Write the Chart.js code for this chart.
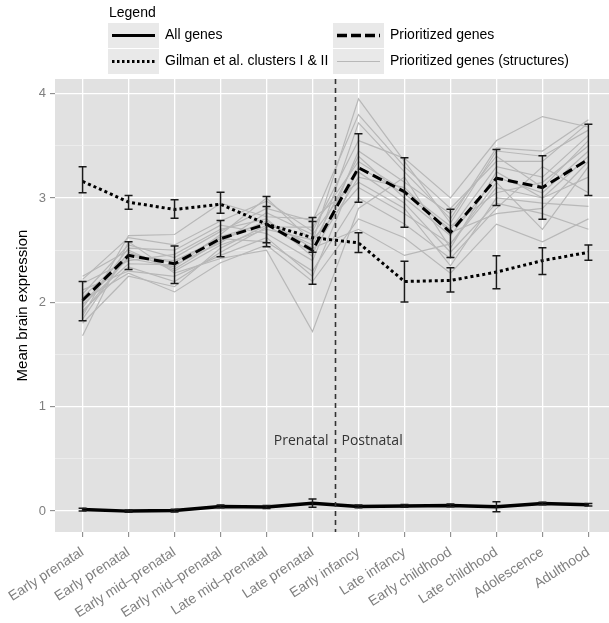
<!DOCTYPE html>
<html>
<head>
<meta charset="utf-8">
<script src="https://cdn.jsdelivr.net/npm/chart.js@4"></script>
<style>
  html, body { margin: 0; padding: 0; background: #fff; overflow: hidden; }
  canvas { display: block; }
</style>
</head>
<body>
<canvas id="brainChart" width="616" height="623"></canvas>
<script>
// Developmental stages on the x axis
const stages = ['Early prenatal', 'Early prenatal', 'Early mid\u2013prenatal', 'Early mid\u2013prenatal',
  'Late mid\u2013prenatal', 'Late prenatal', 'Early infancy', 'Late infancy', 'Early childhood',
  'Late childhood', 'Adolescence', 'Adulthood'];

const yTicks = [0, 1, 2, 3, 4];
const yMinor = [0.5, 1.5, 2.5, 3.5];

// Mean expression per series
const allGenes = [0.015, 0.0, 0.005, 0.045, 0.04, 0.075, 0.045, 0.05, 0.055, 0.043, 0.073, 0.06];
const allLow   = [0.002, -0.01, -0.008, 0.032, 0.025, 0.036, 0.032, 0.037, 0.042, -0.007, 0.062, 0.048];
const allHigh  = [0.028, 0.01, 0.018, 0.058, 0.055, 0.116, 0.058, 0.063, 0.068, 0.09, 0.084, 0.072];

const gilman     = [3.16, 2.96, 2.89, 2.94, 2.75, 2.62, 2.57, 2.20, 2.21, 2.29, 2.40, 2.48];
const gilmanLow  = [3.05, 2.893, 2.806, 2.854, 2.572, 2.48, 2.478, 2.003, 2.099, 2.131, 2.266, 2.404];
const gilmanHigh = [3.30, 3.025, 2.983, 3.054, 2.919, 2.774, 2.668, 2.394, 2.331, 2.446, 2.524, 2.549];

const prioritized     = [2.02, 2.45, 2.37, 2.61, 2.75, 2.50, 3.29, 3.06, 2.67, 3.19, 3.10, 3.37];
const prioritizedLow  = [1.825, 2.314, 2.18, 2.437, 2.533, 2.173, 2.96, 2.719, 2.43, 2.929, 2.797, 3.025];
const prioritizedHigh = [2.20, 2.58, 2.54, 2.784, 3.015, 2.813, 3.616, 3.385, 2.893, 3.465, 3.404, 3.706];

// Prioritized genes per brain structure (thin grey lines)
const structures = [
  [2.25, 2.50, 2.30, 2.55, 2.70, 2.60, 3.10, 2.85, 2.56, 3.10, 3.00, 3.20],
  [2.22, 2.62, 2.55, 2.78, 2.97, 2.68, 3.55, 3.38, 3.00, 3.55, 3.78, 3.68],
  [2.18, 2.40, 2.46, 2.70, 2.80, 2.44, 3.72, 3.25, 2.80, 3.48, 3.45, 3.75],
  [2.12, 2.30, 2.25, 2.45, 2.62, 2.25, 3.30, 3.04, 2.70, 3.30, 3.20, 3.60],
  [2.08, 2.55, 2.43, 2.68, 2.90, 2.78, 3.80, 3.30, 2.90, 3.35, 3.35, 3.72],
  [2.05, 2.46, 2.38, 2.63, 2.76, 2.55, 3.40, 3.00, 2.64, 3.20, 3.05, 3.45],
  [2.02, 2.28, 2.10, 2.38, 2.55, 2.20, 2.80, 2.62, 2.28, 2.75, 2.58, 2.80],
  [2.00, 2.42, 2.34, 2.65, 3.00, 2.58, 3.95, 3.35, 2.76, 3.45, 3.40, 3.65],
  [1.98, 2.37, 2.36, 2.57, 2.86, 2.65, 3.25, 2.95, 2.48, 2.95, 2.85, 2.70],
  [1.95, 2.52, 2.50, 2.74, 2.66, 2.40, 3.45, 3.15, 2.85, 3.40, 3.10, 3.55],
  [1.92, 2.34, 2.20, 2.48, 2.72, 2.72, 3.35, 3.07, 2.73, 3.05, 3.15, 3.50],
  [1.90, 2.44, 2.40, 2.61, 2.58, 2.30, 3.00, 2.75, 2.42, 2.90, 3.30, 3.05],
  [1.87, 2.64, 2.65, 2.95, 2.82, 2.80, 3.15, 2.90, 2.35, 3.00, 2.95, 2.92],
  [1.84, 2.48, 2.32, 2.59, 2.78, 2.52, 2.70, 2.45, 2.56, 3.15, 2.70, 3.30],
  [1.80, 2.25, 2.15, 2.52, 2.74, 2.48, 3.20, 3.10, 2.67, 2.85, 2.90, 3.35],
  [1.68, 2.58, 2.28, 2.42, 2.50, 1.72, 2.90, 3.20, 2.52, 3.25, 3.00, 3.40]
];

const FONT = "'Liberation Sans', Arial, sans-serif";

function pts(values) {
  return values.map((v, i) => ({ x: i, y: v }));
}

const datasets = [
  { label: 'All genes', data: pts(allGenes), borderColor: '#000', borderWidth: 3.5 },
  { label: 'Prioritized genes', data: pts(prioritized), borderColor: '#000', borderWidth: 3, borderDash: [10, 5] },
  { label: 'Gilman et al. clusters I & II', data: pts(gilman), borderColor: '#000', borderWidth: 3, borderDash: [3, 3] }
];
structures.forEach(s => {
  datasets.push({ label: 'Prioritized genes (structures)', data: pts(s), borderColor: '#b8b8b8', borderWidth: 1.2 });
});

const errorSets = [
  { low: allLow, high: allHigh },
  { low: gilmanLow, high: gilmanHigh },
  { low: prioritizedLow, high: prioritizedHigh }
];

// grey panel background
const panelPlugin = {
  id: 'panel',
  beforeDraw(chart) {
    const a = chart.chartArea;
    const ctx = chart.ctx;
    ctx.save();
    ctx.fillStyle = '#e1e1e1';
    ctx.fillRect(a.left, a.top, a.right - a.left, a.bottom - a.top);
    ctx.restore();
  }
};

// error bars, prenatal/postnatal divider
const extrasPlugin = {
  id: 'extras',
  afterDatasetsDraw(chart) {
    const ctx = chart.ctx;
    const xs = chart.scales.x, ys = chart.scales.y;
    const a = chart.chartArea;
    ctx.save();

    // divider
    const xd = xs.getPixelForValue(5.5);
    ctx.strokeStyle = '#333';
    ctx.lineWidth = 1.6;
    ctx.setLineDash([5, 4]);
    ctx.beginPath();
    ctx.moveTo(xd, a.top);
    ctx.lineTo(xd, a.bottom);
    ctx.stroke();
    ctx.setLineDash([]);

    ctx.fillStyle = '#333';
    ctx.font = "14px 'Open Sans', sans-serif";
    ctx.textBaseline = 'middle';
    const yt = ys.getPixelForValue(0.675);
    ctx.textAlign = 'right';
    ctx.fillText('Prenatal', xd - 7, yt);
    ctx.textAlign = 'left';
    ctx.fillText('Postnatal', xd + 6, yt);

    // error bars
    ctx.strokeStyle = '#1a1a1a';
    ctx.lineWidth = 1.5;
    errorSets.forEach(e => {
      e.low.forEach((lo, i) => {
        const x = xs.getPixelForValue(i);
        const y1 = ys.getPixelForValue(lo);
        const y2 = ys.getPixelForValue(e.high[i]);
        ctx.beginPath();
        ctx.moveTo(x, y1); ctx.lineTo(x, y2);
        ctx.moveTo(x - 4, y1); ctx.lineTo(x + 4, y1);
        ctx.moveTo(x - 4, y2); ctx.lineTo(x + 4, y2);
        ctx.stroke();
      });
    });
    ctx.restore();
  }
};

// ggplot-style legend at the top
const legendPlugin = {
  id: 'topLegend',
  afterDraw(chart) {
    const ctx = chart.ctx;
    ctx.save();
    ctx.font = '14px ' + FONT;
    ctx.fillStyle = '#000';
    ctx.textBaseline = 'middle';
    ctx.textAlign = 'left';
    ctx.fillText('Legend', 109, 13);

    const entries = [
      { col: 0, row: 0, text: 'All genes', color: '#000', width: 3, dash: [] },
      { col: 0, row: 1, text: 'Gilman et al. clusters I & II', color: '#000', width: 3, dash: [2.5, 2.5] },
      { col: 1, row: 0, text: 'Prioritized genes', color: '#000', width: 3.5, dash: [10, 4] },
      { col: 1, row: 1, text: 'Prioritized genes (structures)', color: '#b8b8b8', width: 1.2, dash: [] }
    ];
    const colX = [108, 333];
    entries.forEach(e => {
      const bx = colX[e.col], by = 23 + e.row * 26;
      ctx.fillStyle = '#e9e9e9';
      ctx.fillRect(bx, by, 51, 25);
      const cy = by + 12.5;
      ctx.strokeStyle = e.color;
      ctx.lineWidth = e.width;
      ctx.setLineDash(e.dash);
      ctx.beginPath();
      ctx.moveTo(bx + 4, cy);
      ctx.lineTo(bx + 47, cy);
      ctx.stroke();
      ctx.setLineDash([]);
      ctx.fillStyle = '#000';
      ctx.fillText(e.text, bx + 57, cy);
    });
    ctx.restore();
  }
};

const chart = new Chart(document.getElementById('brainChart'), {
  type: 'line',
  data: { datasets: datasets },
  options: {
    responsive: false,
    animation: false,
    layout: { padding: { top: 79, left: 0, right: 0, bottom: 0 } },
    elements: {
      point: { radius: 0 },
      line: { tension: 0, borderCapStyle: 'butt', borderJoinStyle: 'miter' }
    },
    plugins: {
      legend: { display: false },
      tooltip: { enabled: false }
    },
    scales: {
      x: {
        type: 'linear',
        min: -0.6,
        max: 11.6,
        afterBuildTicks: s => { s.ticks = stages.map((_, i) => ({ value: i })); },
        afterFit: s => { s.height = 91; },
        border: { display: false },
        grid: { color: '#ffffff', lineWidth: 1.3, drawTicks: true, tickLength: 5, tickColor: '#7f7f7f', tickWidth: 1 },
        ticks: {
          autoSkip: false,
          minRotation: 33,
          maxRotation: 33,
          padding: 7,
          color: '#7f7f7f',
          font: { family: FONT, size: 14 },
          callback: v => stages[v]
        }
      },
      y: {
        min: -0.2,
        max: 4.14,
        afterBuildTicks: s => { s.ticks = yTicks.concat(yMinor).sort((a, b) => a - b).map(v => ({ value: v })); },
        afterFit: s => { s.width = 55; },
        border: { display: false },
        grid: {
          color: c => (Number.isInteger(c.tick.value) ? '#ffffff' : '#f1f1f1'),
          lineWidth: c => (Number.isInteger(c.tick.value) ? 1.3 : 0.7),
          tickColor: c => (Number.isInteger(c.tick.value) ? '#7f7f7f' : 'rgba(0,0,0,0)'),
          tickLength: 5,
          tickWidth: 1
        },
        ticks: {
          padding: 4,
          color: '#7f7f7f',
          font: { family: FONT, size: 13 },
          callback: v => (yTicks.includes(v) ? String(v) : '')
        },
        title: {
          display: true,
          text: 'Mean brain expression',
          color: '#000',
          font: { family: FONT, size: 15 },
          padding: { top: 14, bottom: 0 }
        }
      }
    }
  },
  plugins: [panelPlugin, extrasPlugin, legendPlugin]
});
</script>
</body>
</html>
